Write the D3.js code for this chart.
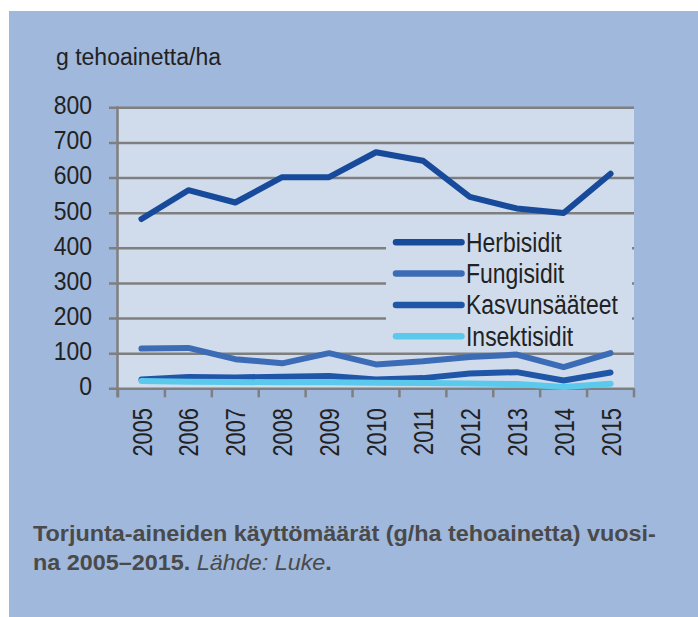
<!DOCTYPE html>
<html>
<head>
<meta charset="utf-8">
<script src="https://cdn.jsdelivr.net/npm/d3@7/dist/d3.min.js"></script>
<style>
  html, body { margin: 0; padding: 0; background: #ffffff; }
  svg { display: block; }
</style>
</head>
<body>
<svg id="chart" width="698" height="617"></svg>
<script>
// Pesticide use per hectare (g active ingredient / ha), 2005–2015
const years = [2005, 2006, 2007, 2008, 2009, 2010, 2011, 2012, 2013, 2014, 2015];
const herbisidit    = [482, 564, 529, 601, 601, 672, 648, 545, 512, 499, 611];
const fungisidit    = [113, 115, 83, 71, 100, 68, 77, 89, 96, 60, 100];
const kasvunsaateet = [25, 32, 31, 33, 35, 25, 29, 42, 46, 22, 45];
const insektisidit  = [21, 19, 18, 17, 17, 16, 15, 14, 12, 4, 13];
const seriesNames   = ["Herbisidit", "Fungisidit", "Kasvunsääteet", "Insektisidit"];
const yTicks        = [0, 100, 200, 300, 400, 500, 600, 700, 800];
const unitLabel     = "g tehoainetta/ha";

const series = [
  { name: seriesNames[0], values: herbisidit,    color: "#174a9b" },
  { name: seriesNames[1], values: fungisidit,    color: "#3d6cb6" },
  { name: seriesNames[2], values: kasvunsaateet, color: "#2056a7" },
  { name: seriesNames[3], values: insektisidit,  color: "#5bc9ec" }
];

const svg = d3.select("#chart");
const font = "'Liberation Sans', Arial, Helvetica, sans-serif";
const ink = "#222";

// panel
svg.append("rect").attr("x", 9).attr("y", 11).attr("width", 689).attr("height", 606)
  .attr("fill", "#a0b8dc");

const plot = { left: 118, right: 634, top: 107.3, bottom: 388.3 };

const x = d3.scaleBand().domain(years).range([plot.left, plot.right]).padding(0);
const y = d3.scaleLinear().domain([0, 800]).range([plot.bottom, plot.top]);

// plot background
svg.append("rect")
  .attr("x", plot.left).attr("y", plot.top)
  .attr("width", plot.right - plot.left).attr("height", plot.bottom - plot.top)
  .attr("fill", "#d0dcec");

const gridColor = "#7f7f7f";

// y axis with gridlines; labels in a condensed face (horizontal squeeze)
const yAxis = svg.append("g")
  .attr("transform", `translate(${plot.left},0)`)
  .call(d3.axisLeft(y).tickValues(yTicks).tickSizeOuter(0));
yAxis.select(".domain").remove();
yAxis.selectAll(".tick line")
  .attr("x1", -9).attr("x2", plot.right - plot.left)
  .attr("stroke", gridColor).attr("stroke-width", 2.5);
yAxis.selectAll(".tick text")
  .attr("x", 0).attr("dy", "0.35em")
  .attr("transform", "translate(-26,-2.5) scale(0.9,1)")
  .attr("fill", ink)
  .style("font-family", font).style("font-size", "25.5px");

// x axis ticks at category boundaries
const boundaries = years.map(d => x(d)).concat([plot.right]);
svg.append("g").selectAll("line").data(boundaries).join("line")
  .attr("x1", d => d).attr("x2", d => d)
  .attr("y1", plot.bottom).attr("y2", plot.bottom + 9)
  .attr("stroke", gridColor).attr("stroke-width", 2.5);

// vertical axis line
svg.append("line")
  .attr("x1", plot.left - 0.5).attr("x2", plot.left - 0.5)
  .attr("y1", plot.top - 1).attr("y2", plot.bottom + 9)
  .attr("stroke", gridColor).attr("stroke-width", 2.5);

// year labels, rotated
svg.append("g").selectAll("text").data(years).join("text")
  .attr("transform", d => `translate(${x(d) + x.bandwidth() / 2},408) rotate(-90) scale(0.78,1)`)
  .attr("text-anchor", "end").attr("dy", "0.36em")
  .attr("fill", ink)
  .style("font-family", font).style("font-size", "28px")
  .text(d => d);

// unit label
svg.append("text").attr("x", 56).attr("y", 65)
  .attr("fill", ink)
  .style("font-family", font).style("font-size", "23px")
  .text(unitLabel);

// series lines
const line = d3.line()
  .x((d, i) => x(years[i]) + x.bandwidth() / 2)
  .y(d => y(d));

svg.append("g").selectAll("path").data(series).join("path")
  .attr("d", s => line(s.values))
  .attr("fill", "none")
  .attr("stroke", s => s.color)
  .attr("stroke-width", 6)
  .attr("stroke-linecap", "round")
  .attr("stroke-linejoin", "round");

// legend
const legend = svg.append("g");
legend.append("rect").attr("x", 386).attr("y", 222).attr("width", 246).attr("height", 127)
  .attr("fill", "#d0dcec");
const rows = legend.selectAll("g").data(series).join("g")
  .attr("transform", (d, i) => `translate(0,${242.3 + i * 31.3})`);
rows.append("line")
  .attr("x1", 396).attr("x2", 461.5).attr("y1", 0).attr("y2", 0)
  .attr("stroke", d => d.color).attr("stroke-width", 6.5)
  .attr("stroke-linecap", "round");
rows.append("text")
  .attr("transform", "translate(466,0) scale(0.85,1)")
  .attr("dy", "0.35em")
  .attr("fill", ink)
  .style("font-family", font).style("font-size", "27px")
  .text(d => d.name);

// caption, two lines fitted to the panel width
const capColor = "#4a4a4a";
const caption = svg.append("g");
const cap1 = caption.append("text").attr("x", 0).attr("y", 0)
  .attr("fill", capColor)
  .style("font-family", font).style("font-size", "22px").style("font-weight", "bold")
  .text("Torjunta-aineiden käyttömäärät (g/ha tehoainetta) vuosi-");
const cap2 = caption.append("text").attr("x", 0).attr("y", 29.5)
  .attr("fill", capColor)
  .style("font-family", font).style("font-size", "22px");
cap2.append("tspan").style("font-weight", "bold").text("na 2005–2015. ");
cap2.append("tspan").style("font-style", "italic").text("Lähde: Luke");
cap2.append("tspan").style("font-weight", "bold").text(".");
const capScale = 623 / cap1.node().getComputedTextLength();
caption.attr("transform", `translate(33,540.5) scale(${capScale},1)`);
</script>
</body>
</html>
